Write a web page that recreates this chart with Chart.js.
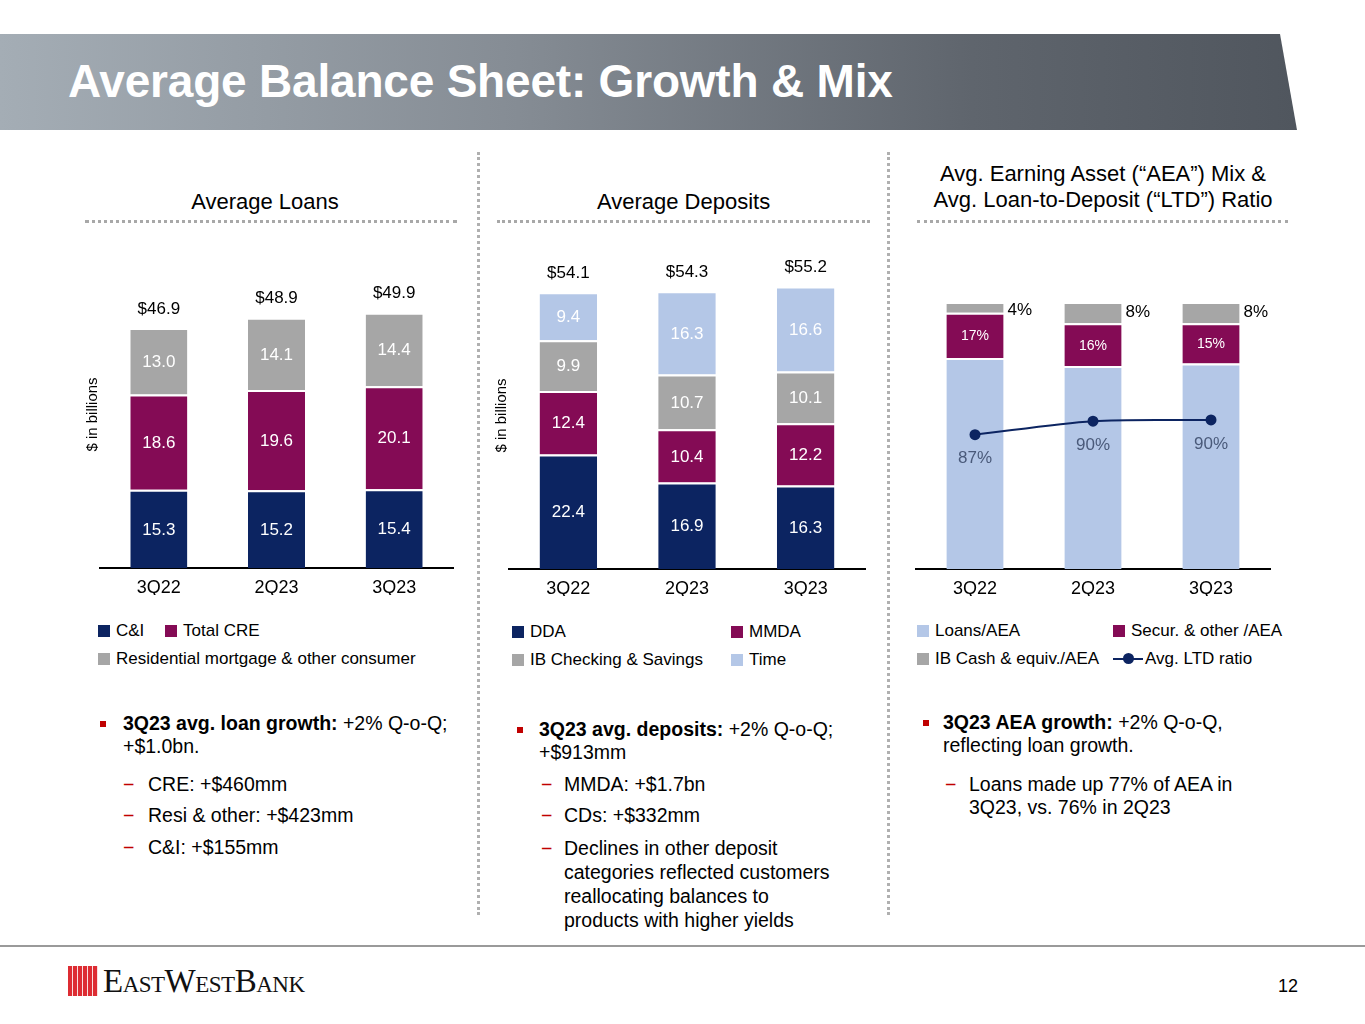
<!DOCTYPE html>
<html>
<head>
<meta charset="utf-8">
<title>Average Balance Sheet: Growth & Mix</title>
<script src="https://cdn.jsdelivr.net/npm/chart.js@4.4.0/dist/chart.umd.min.js"></script>
<style>
  body { margin: 0; width: 1365px; height: 1024px; position: relative; overflow: hidden; background: #fff;
         font-family: "Liberation Sans", Arial, sans-serif; color: #000; }
  .banner { position: absolute; left: 0; top: 34px; width: 1297px; height: 96px;
            background: linear-gradient(90deg, #a4adb5 0%, #858c94 40%, #5f656d 75%, #50565e 100%);
            clip-path: polygon(0 0, 1280px 0, 1297px 100%, 0 100%); }
  .banner h1 { margin: 0; position: absolute; left: 68px; top: 24px; font-size: 46px; line-height: 46px;
               color: #fff; font-weight: bold; white-space: nowrap; letter-spacing: -0.2px; }
  .sec-title { position: absolute; text-align: center; font-size: 22px; line-height: 26px; }
  .dots-h { position: absolute; height: 0; border-top: 3px dotted #a8a8a8; }
  .dots-v { position: absolute; width: 0; border-left: 3px dotted #b0b0b0; }
  canvas { position: absolute; }
  .legend { position: absolute; font-size: 17px; }
  .legend .item { display: flex; align-items: center; height: 28px; white-space: nowrap; }
  .legend .box { width: 12px; height: 12px; margin-right: 6px; flex: none; }
  .legend .lineMark { position: relative; width: 30px; height: 2px; margin-right: 2px; flex: none; }
  .legend .lineMark i { position: absolute; left: 10px; top: -5px; width: 11px; height: 11px; border-radius: 50%; }
  .notes { position: absolute; font-size: 19.5px; line-height: 23px; white-space: nowrap; }
  .notes .b1, .notes .b2 { position: relative; }
  .notes .sq { position: absolute; left: 0; top: 9px; width: 6px; height: 6px; background: #c00000; }
  .notes .dash { position: absolute; color: #c00000; }
  .foot-line { position: absolute; left: 0; top: 945px; width: 1365px; height: 2px; background: #9a9a9a; }
  .logo-icon { position: absolute; left: 68px; top: 966px; width: 30px; height: 30px; background: #dd2c33;
               background-image: repeating-linear-gradient(90deg, transparent 0 4px, rgba(255,255,255,0.85) 4px 5px); }
  .logo-text { position: absolute; left: 103px; top: 964px; font-family: "Liberation Serif", serif; font-size: 33px;
               line-height: 34px; font-variant: small-caps; letter-spacing: -0.5px; color: #111; white-space: nowrap; }
  .page-no { position: absolute; left: 1278px; top: 975px; font-size: 18px; line-height: 22px; }
</style>
</head>
<body>

<div class="banner"><h1>Average Balance Sheet: Growth &amp; Mix</h1></div>

<div class="sec-title" style="left:85px;top:189px;width:360px;">Average Loans</div>
<div class="sec-title" style="left:497px;top:189px;width:373px;">Average Deposits</div>
<div class="sec-title" style="left:910px;top:161px;width:386px;">Avg. Earning Asset (“AEA”) Mix &amp;<br>Avg. Loan-to-Deposit (“LTD”) Ratio</div>

<div class="dots-h" style="left:85px;top:220px;width:372px;"></div>
<div class="dots-h" style="left:497px;top:220px;width:373px;"></div>
<div class="dots-h" style="left:917px;top:220px;width:371px;"></div>

<div class="dots-v" style="left:477px;top:152px;height:763px;"></div>
<div class="dots-v" style="left:887px;top:152px;height:763px;"></div>

<canvas id="loansChart" width="390" height="354" style="left:80px;top:241px;"></canvas>
<canvas id="depositsChart" width="393" height="354" style="left:489px;top:242px;"></canvas>
<canvas id="aeaChart" width="380" height="355" style="left:906px;top:241px;"></canvas>

<div class="legend" id="loansLegend" style="left:98px;top:617px;width:340px;"></div>
<div class="legend" id="depositsLegend" style="left:512px;top:618px;"></div>
<div class="legend" id="aeaLegend" style="left:917px;top:617px;"></div>

<div class="notes" style="left:100px;top:712px;">
  <div class="b1" style="padding-left:23px;"><span class="sq"></span><b>3Q23 avg. loan growth:</b> +2% Q-o-Q;<br>+$1.0bn.</div>
  <div class="b2" style="padding-left:48px;margin-top:15px;"><span class="dash" style="left:23px;">−</span>CRE: +$460mm</div>
  <div class="b2" style="padding-left:48px;margin-top:8px;"><span class="dash" style="left:23px;">−</span>Resi &amp; other: +$423mm</div>
  <div class="b2" style="padding-left:48px;margin-top:9px;"><span class="dash" style="left:23px;">−</span>C&amp;I: +$155mm</div>
</div>

<div class="notes" style="left:517px;top:718px;">
  <div class="b1" style="padding-left:22px;"><span class="sq"></span><b>3Q23 avg. deposits:</b> +2% Q-o-Q;<br>+$913mm</div>
  <div class="b2" style="padding-left:47px;margin-top:9px;"><span class="dash" style="left:24px;">−</span>MMDA: +$1.7bn</div>
  <div class="b2" style="padding-left:47px;margin-top:8px;"><span class="dash" style="left:24px;">−</span>CDs: +$332mm</div>
  <div class="b2" style="padding-left:47px;margin-top:9px;line-height:24px;"><span class="dash" style="left:24px;">−</span>Declines in other deposit<br>categories reflected customers<br>reallocating balances to<br>products with higher yields</div>
</div>

<div class="notes" style="left:923px;top:711px;">
  <div class="b1" style="padding-left:20px;"><span class="sq"></span><b>3Q23 AEA growth:</b> +2% Q-o-Q,<br>reflecting loan growth.</div>
  <div class="b2" style="padding-left:46px;margin-top:16px;"><span class="dash" style="left:22px;">−</span>Loans made up 77% of AEA in<br>3Q23, vs. 76% in 2Q23</div>
</div>

<div class="foot-line"></div>
<div class="logo-icon"></div>
<div class="logo-text">EastWestBank</div>
<div class="page-no">12</div>

<script>
// ---- data ----
const quarters = ['3Q22', '2Q23', '3Q23'];

// average loans, $bn
const loanCI = [15.3, 15.2, 15.4];
const loanCRE = [18.6, 19.6, 20.1];
const loanResi = [13.0, 14.1, 14.4];
const loanTotals = [46.9, 48.9, 49.9];

// average deposits, $bn
const depDDA = [22.4, 16.9, 16.3];
const depMMDA = [12.4, 10.4, 12.2];
const depIB = [9.9, 10.7, 10.1];
const depTime = [9.4, 16.3, 16.6];
const depTotals = [54.1, 54.3, 55.2];

// earning asset mix, % of AEA, and avg loan-to-deposit ratio
const aeaLoans = [79, 76, 77];
const aeaSecur = [17, 16, 15];
const aeaCash = [4, 8, 8];
const ltdRatio = [86.7, 90.1, 90.4];

const NAVY = '#0c2461';
const MAROON = '#840b55';
const GRAY = '#a6a6a6';
const LIGHTBLUE = '#b4c7e7';

Chart.defaults.font.family = '"Liberation Sans", Arial, sans-serif';
Chart.defaults.color = '#000';

// draws the value inside each segment, the stack total above, and the line labels
const valueLabels = {
  id: 'valueLabels',
  afterDatasetsDraw(chart, args, opts) {
    const ctx = chart.ctx;
    ctx.save();
    chart.data.datasets.forEach((ds, i) => {
      const meta = chart.getDatasetMeta(i);
      if (meta.hidden) return;
      meta.data.forEach((el, j) => {
        const v = ds.data[j];
        const txt = ds.labelFormat ? ds.labelFormat(v) : v.toFixed(1);
        ctx.font = (ds.labelSize || 17) + 'px "Liberation Sans", Arial, sans-serif';
        ctx.fillStyle = ds.labelColor || '#fff';
        ctx.textBaseline = 'middle';
        if (ds.labelMode === 'inside') {
          ctx.textAlign = 'center';
          ctx.fillText(txt, el.x, (el.y + el.base) / 2 + 1);
        } else if (ds.labelMode === 'right') {
          ctx.textAlign = 'left';
          ctx.fillText(txt, el.x + el.width / 2 + 4, Math.max((el.y + el.base) / 2, el.y + 8));
        } else if (ds.labelMode === 'below') {
          ctx.textAlign = 'center';
          ctx.fillText(txt, el.x, el.y + 24);
        }
      });
    });
    if (opts.totals) {
      const last = chart.getDatasetMeta(chart.data.datasets.length - 1);
      ctx.font = '17px "Liberation Sans", Arial, sans-serif';
      ctx.fillStyle = '#000';
      ctx.textAlign = 'center';
      ctx.textBaseline = 'middle';
      last.data.forEach((el, j) => {
        ctx.fillText('$' + opts.totals[j].toFixed(1), el.x, el.y - 19);
      });
    }
    ctx.restore();
  }
};

// legend built as html from the chart's own legend items, laid out in rows
const htmlLegend = {
  id: 'htmlLegend',
  afterUpdate(chart, args, opts) {
    const box = document.getElementById(opts.containerID);
    box.innerHTML = '';
    box.style.display = 'grid';
    box.style.gridTemplateColumns = opts.columns;
    const items = chart.options.plugins.legend.labels.generateLabels(chart)
      .sort((a, b) => a.datasetIndex - b.datasetIndex);
    items.forEach(item => {
      const ds = chart.data.datasets[item.datasetIndex];
      const row = document.createElement('div');
      row.className = 'item';
      if (opts.spans && opts.spans[item.datasetIndex]) row.style.gridColumn = opts.spans[item.datasetIndex];
      let mark;
      if (ds.type === 'line') {
        mark = document.createElement('span');
        mark.className = 'lineMark';
        mark.style.background = ds.borderColor;
        const dot = document.createElement('i');
        dot.style.background = ds.borderColor;
        mark.appendChild(dot);
      } else {
        mark = document.createElement('span');
        mark.className = 'box';
        mark.style.background = item.fillStyle;
      }
      row.appendChild(mark);
      const t = document.createElement('span');
      t.textContent = item.text;
      row.appendChild(t);
      box.appendChild(row);
    });
  }
};

function segment(label, data, color, extra) {
  return Object.assign({
    label: label,
    data: data,
    backgroundColor: color,
    borderColor: '#fff',
    borderWidth: { top: 2, left: 0, right: 0, bottom: 0 },
    borderSkipped: false,
    barPercentage: 0.485,
    categoryPercentage: 1,
    labelMode: 'inside',
    order: 1
  }, extra || {});
}

function xAxis() {
  return {
    stacked: true,
    grid: { display: false, drawTicks: false },
    border: { display: true, color: '#000', width: 2 },
    ticks: { font: { size: 18 }, color: '#000', padding: 9 },
    afterFit(axis) { axis.height = 27; }
  };
}

function yAxis(max) {
  return {
    stacked: true,
    min: 0,
    max: max,
    grid: { display: false, drawTicks: false },
    border: { display: false },
    ticks: { display: false },
    title: { display: true, text: '$ in billions', font: { size: 15 }, color: '#000', padding: { top: 4, bottom: 4 } },
    afterFit(axis) { axis.width = 20; }
  };
}

// Average Loans
new Chart(document.getElementById('loansChart'), {
  type: 'bar',
  data: {
    labels: quarters,
    datasets: [
      segment('C&I', loanCI, NAVY),
      segment('Total CRE', loanCRE, MAROON),
      segment('Residential mortgage & other consumer', loanResi, GRAY)
    ]
  },
  options: {
    responsive: false,
    animation: false,
    layout: { padding: { top: 20, right: 17, left: 0, bottom: 0 } },
    scales: { x: xAxis(), y: yAxis(60) },
    plugins: {
      legend: { display: false },
      tooltip: { enabled: false },
      valueLabels: { totals: loanTotals },
      htmlLegend: { containerID: 'loansLegend', columns: '67px auto', spans: { 2: '1 / span 2' } }
    }
  },
  plugins: [valueLabels, htmlLegend]
});

// Average Deposits
new Chart(document.getElementById('depositsChart'), {
  type: 'bar',
  data: {
    labels: quarters,
    datasets: [
      segment('DDA', depDDA, NAVY),
      segment('MMDA', depMMDA, MAROON),
      segment('IB Checking & Savings', depIB, GRAY),
      segment('Time', depTime, LIGHTBLUE)
    ]
  },
  options: {
    responsive: false,
    animation: false,
    layout: { padding: { top: 20, right: 17, left: 0, bottom: 0 } },
    scales: { x: xAxis(), y: yAxis(60) },
    plugins: {
      legend: { display: false },
      tooltip: { enabled: false },
      valueLabels: { totals: depTotals },
      htmlLegend: { containerID: 'depositsLegend', columns: '219px auto' }
    }
  },
  plugins: [valueLabels, htmlLegend]
});

// AEA mix and LTD ratio
const pct = v => Math.round(v) + '%';
new Chart(document.getElementById('aeaChart'), {
  type: 'bar',
  data: {
    labels: quarters,
    datasets: [
      segment('Loans/AEA', aeaLoans, LIGHTBLUE, { labelMode: 'none' }),
      segment('Secur. & other /AEA', aeaSecur, MAROON, { labelFormat: pct, labelSize: 14 }),
      segment('IB Cash & equiv./AEA', aeaCash, GRAY, { labelMode: 'right', labelFormat: pct, labelColor: '#000' }),
      {
        type: 'line',
        label: 'Avg. LTD ratio',
        data: ltdRatio,
        yAxisID: 'y2',
        borderColor: NAVY,
        backgroundColor: NAVY,
        borderWidth: 2,
        pointRadius: 5.5,
        pointBackgroundColor: NAVY,
        pointBorderWidth: 0,
        tension: 0.3,
        order: 0,
        labelMode: 'below',
        labelFormat: pct,
        labelColor: '#4a5a7a'
      }
    ]
  },
  options: {
    responsive: false,
    animation: false,
    layout: { padding: { top: 61, right: 16, left: 10, bottom: 0 } },
    scales: {
      x: xAxis(),
      y: { stacked: true, min: 0, max: 100, display: false },
      y2: { min: 53, max: 120, display: false }
    },
    plugins: {
      legend: { display: false },
      tooltip: { enabled: false },
      valueLabels: {},
      htmlLegend: { containerID: 'aeaLegend', columns: '196px auto' }
    }
  },
  plugins: [valueLabels, htmlLegend]
});
</script>
</body>
</html>
